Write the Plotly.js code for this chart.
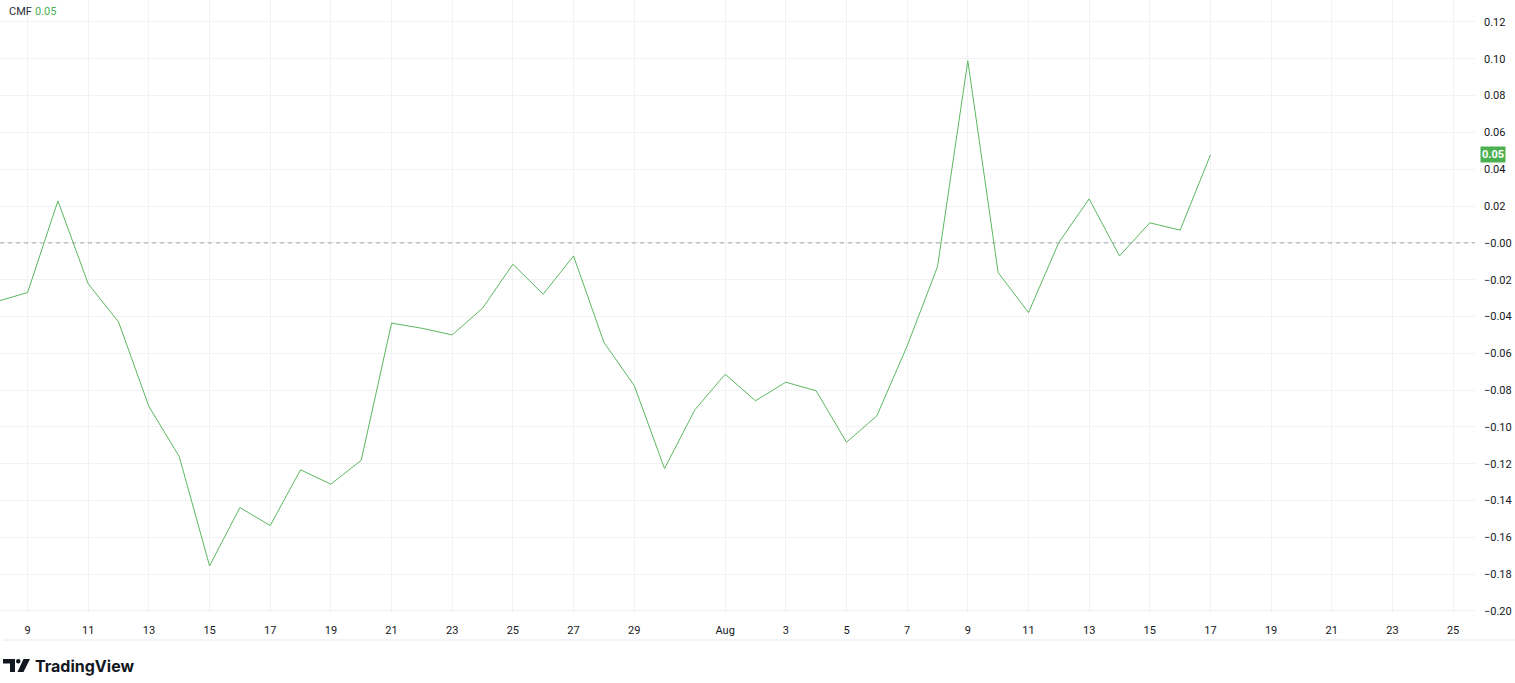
<!DOCTYPE html>
<html>
<head>
<meta charset="utf-8">
<script src="https://cdn.plot.ly/plotly-3.0.1.min.js"></script>
<style>
  html, body { margin: 0; padding: 0; background: #ffffff; }
  #chart { width: 1515px; height: 683px; }
</style>
</head>
<body>
<div id="chart"></div>
<script>
// ---- data ----
const dates = [
  '2024-07-08','2024-07-09','2024-07-10','2024-07-11','2024-07-12','2024-07-13','2024-07-14',
  '2024-07-15','2024-07-16','2024-07-17','2024-07-18','2024-07-19','2024-07-20','2024-07-21',
  '2024-07-22','2024-07-23','2024-07-24','2024-07-25','2024-07-26','2024-07-27','2024-07-28',
  '2024-07-29','2024-07-30','2024-07-31','2024-08-01','2024-08-02','2024-08-03','2024-08-04',
  '2024-08-05','2024-08-06','2024-08-07','2024-08-08','2024-08-09','2024-08-10','2024-08-11',
  '2024-08-12','2024-08-13','2024-08-14','2024-08-15','2024-08-16','2024-08-17'
];
const cmf = [
  -0.0318, -0.0270, 0.0228, -0.0223, -0.0430, -0.0889, -0.1161,
  -0.1755, -0.1438, -0.1536, -0.1233, -0.1311, -0.1181, -0.0436,
  -0.0464, -0.0500, -0.0355, -0.0116, -0.0279, -0.0071, -0.0540,
  -0.0775, -0.1226, -0.0907, -0.0714, -0.0858, -0.0757, -0.0804,
  -0.1083, -0.0940, -0.0560, -0.0130, 0.0989, -0.0161, -0.0379,
  0.0002, 0.0239, -0.0071, 0.0109, 0.0069, 0.0478
];
const xTickVals = [
  '2024-07-09','2024-07-11','2024-07-13','2024-07-15','2024-07-17','2024-07-19','2024-07-21',
  '2024-07-23','2024-07-25','2024-07-27','2024-07-29','2024-08-01','2024-08-03','2024-08-05',
  '2024-08-07','2024-08-09','2024-08-11','2024-08-13','2024-08-15','2024-08-17','2024-08-19',
  '2024-08-21','2024-08-23','2024-08-25'
];
const xTickText = ['9','11','13','15','17','19','21','23','25','27','29','Aug','3','5',
  '7','9','11','13','15','17','19','21','23','25'];
const yTickVals = [0.12,0.10,0.08,0.06,0.04,0.02,0.00,-0.02,-0.04,-0.06,-0.08,-0.10,
  -0.12,-0.14,-0.16,-0.18,-0.20];
const yTickText = ['0.12','0.10','0.08','0.06','0.04','0.02','\u22120.00','\u22120.02',
  '\u22120.04','\u22120.06','\u22120.08','\u22120.10','\u22120.12','\u22120.14','\u22120.16',
  '\u22120.18','\u22120.20'];
const indicatorName = 'CMF';

// ---- layout helpers (pixel -> paper) ----
const W = 1515, H = 683, ML = 0, MR = 40, MT = 0, MB = 70;
const PW = W - ML - MR, PH = H - MT - MB;
const px = x => (x - ML) / PW;
const py = y => 1 - (y - MT) / PH;

const GREEN = '#4caf50';
const LINE_GREEN = '#5cb860';
const TEXT = '#131722';
const FONT = 'Roboto, "Noto Sans", sans-serif';
const lastVal = cmf[cmf.length - 1];
const lastTxt = lastVal.toFixed(2);

const trace = {
  x: dates, y: cmf, type: 'scatter', mode: 'lines',
  line: { color: LINE_GREEN, width: 1 },
  hoverinfo: 'skip'
};

const layout = {
  width: W, height: H,
  margin: { l: ML, r: MR, t: MT, b: MB, pad: 0 },
  paper_bgcolor: '#ffffff', plot_bgcolor: '#ffffff',
  showlegend: false,
  font: { family: FONT, size: 11, color: TEXT },
  xaxis: {
    type: 'date',
    range: ['2024-07-08 02:10', '2024-08-25 17:20'],
    tickmode: 'array', tickvals: xTickVals, ticktext: xTickText,
    showgrid: true, gridcolor: '#f0f2f5', gridwidth: 1,
    zeroline: false, showline: false, ticks: '',
    ticklabelstandoff: 9,
    tickfont: { family: FONT, size: 11, color: TEXT },
    fixedrange: true
  },
  yaxis: {
    side: 'right',
    range: [-0.2011, 0.13195],
    tickmode: 'array', tickvals: yTickVals, ticktext: yTickText,
    showgrid: true, gridcolor: '#f0f2f5', gridwidth: 1,
    zeroline: false, showline: false, ticks: '',
    ticklabelstandoff: 8,
    tickfont: { family: FONT, size: 11, color: TEXT },
    fixedrange: true
  },
  shapes: [
    // zero dashed level
    { type: 'line', xref: 'paper', yref: 'y', x0: 0, x1: 1, y0: 0, y1: 0,
      line: { color: '#a3a6ae', width: 1, dash: '4px,4px' } },
    // bottom separator line
    { type: 'line', xref: 'paper', yref: 'paper', x0: px(3), x1: px(1515), y0: py(640), y1: py(640),
      line: { color: '#e6e8ee', width: 1 } },
    // TradingView logo: T bar
    { type: 'rect', xref: 'paper', yref: 'paper', x0: px(3), x1: px(15), y0: py(659), y1: py(663.5),
      fillcolor: TEXT, line: { width: 0 } },
    // T stem
    { type: 'rect', xref: 'paper', yref: 'paper', x0: px(10), x1: px(15), y0: py(659), y1: py(672),
      fillcolor: TEXT, line: { width: 0 } },
    // dot
    { type: 'circle', xref: 'paper', yref: 'paper', x0: px(16), x1: px(20.5), y0: py(659), y1: py(663.5),
      fillcolor: TEXT, line: { width: 0 } },
    // slash
    { type: 'path', xref: 'paper', yref: 'paper',
      path: 'M ' + px(23.5) + ' ' + py(659) + ' L ' + px(30) + ' ' + py(659) +
            ' L ' + px(23.5) + ' ' + py(672) + ' L ' + px(17.5) + ' ' + py(672) + ' Z',
      fillcolor: TEXT, line: { width: 0 } }
  ],
  annotations: [
    { xref: 'paper', yref: 'paper', x: px(7), y: py(12), xanchor: 'left', yanchor: 'middle',
      text: indicatorName, showarrow: false, font: { family: FONT, size: 11, color: '#2a2e39' } },
    { xref: 'paper', yref: 'paper', x: px(33), y: py(12), xanchor: 'left', yanchor: 'middle',
      text: lastTxt, showarrow: false, font: { family: FONT, size: 11, color: GREEN } },
    { xref: 'paper', yref: 'y', x: px(1493), y: lastVal, xanchor: 'center', yanchor: 'middle',
      text: '<b>' + lastTxt + '</b>', showarrow: false, bgcolor: GREEN, borderpad: 1,
      font: { family: FONT, size: 11, color: '#ffffff' } },
    { xref: 'paper', yref: 'paper', x: px(33), y: py(665.5), xanchor: 'left', yanchor: 'middle',
      text: '<b>TradingView</b>', showarrow: false,
      font: { family: 'Inter, Roboto, sans-serif', size: 16, color: TEXT } }
  ]
};

Plotly.newPlot('chart', [trace], layout, { staticPlot: true, displayModeBar: false });
</script>
</body>
</html>
